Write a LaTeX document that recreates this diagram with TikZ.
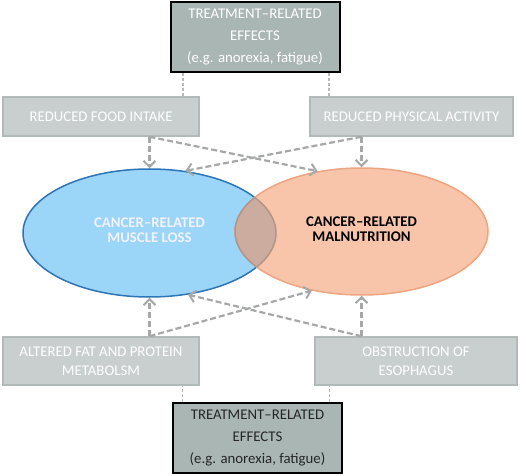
\documentclass[tikz,border=0pt]{standalone}
\usepackage{fontspec}
\setmainfont{Carlito}
\usetikzlibrary{shapes.geometric,arrows.meta}
\definecolor{boxfill}{RGB}{201,207,207}
\definecolor{boxline}{RGB}{178,186,185}
\definecolor{treatfill}{RGB}{169,182,179}
\definecolor{bluefill}{RGB}{155,213,247}
\definecolor{blueline}{RGB}{46,117,182}
\definecolor{orfill}{RGB}{248,196,170}
\definecolor{orline}{RGB}{238,165,130}
\definecolor{overfill}{RGB}{203,172,158}
\definecolor{overline}{RGB}{180,148,132}
\definecolor{arrgray}{RGB}{166,168,168}
\tikzset{
  causebox/.style={draw=boxline, line width=1.5pt, fill=boxfill, text=white, align=center, inner sep=0pt,
    font=\fontsize{14.8}{19}\selectfont},
  treatbox/.style={draw=black, line width=2pt, fill=treatfill, align=center, inner sep=0pt,
    minimum width=169pt, minimum height=70pt, font=\fontsize{14.8}{22}\selectfont},
  arr/.style={draw=arrgray, line width=2.2pt, dash pattern=on 6pt off 3pt, -{Straight Barb[length=6pt,width=12pt,line width=2pt]}},
  link/.style={draw=arrgray!80, line width=1.6pt, dash pattern=on 3pt off 2pt},
}
\begin{document}
\begin{tikzpicture}[x=1pt,y=-1pt]
\useasboundingbox[fill=white] (0,0) rectangle (520,476);
% treatment boxes
\node[treatbox, text=white] (top) at (255,37.5) {TREATMENT–RELATED\\EFFECTS\\(e.g. anorexia, fatigue)};
\node[treatbox, text=black!85] (bot) at (257.5,438) {TREATMENT–RELATED\\EFFECTS\\(e.g. anorexia, fatigue)};
% cause boxes
\node[causebox, minimum width=196pt, minimum height=39pt] (food) at (101,116.5) {REDUCED FOOD INTAKE};
\node[causebox, minimum width=203pt, minimum height=39pt] (phys) at (411.5,116.5) {REDUCED PHYSICAL ACTIVITY};
\node[causebox, minimum width=196pt, minimum height=48pt] (alt) at (101,361) {ALTERED FAT AND PROTEIN\\METABOLSM};
\node[causebox, minimum width=202pt, minimum height=48pt] (obs) at (416,361) {OBSTRUCTION OF\\ESOPHAGUS};
% ellipses
\node[ellipse, fill=bluefill, draw=blueline, line width=1.5pt, minimum width=253pt, minimum height=128pt, inner sep=0pt,
  text=white!95!blue, align=center, font=\bfseries\fontsize{14.8}{20}\selectfont] (blue) at (149.5,233)
  {\raisebox{5pt}{\shortstack{CANCER–RELATED\\[2pt]MUSCLE LOSS}}};
\node[ellipse, fill=orfill, draw=orline, line width=1.5pt, minimum width=253pt, minimum height=127pt, inner sep=0pt,
  text=black, align=center, font=\bfseries\fontsize{14.8}{20}\selectfont] (orange) at (361.5,231.5)
  {\raisebox{4pt}{\shortstack{CANCER–RELATED\\[2pt]MALNUTRITION}}};
\begin{scope}
  \clip (blue.center) ellipse (126.5pt and 64pt);
  \fill[overfill] (orange.center) ellipse (126.5pt and 63.5pt);
  \draw[overline, line width=1.5pt] (orange.center) ellipse (126.5pt and 63.5pt);
\end{scope}
\begin{scope}
  \clip (orange.center) ellipse (126.5pt and 63.5pt);
  \draw[overline, line width=1.5pt] (blue.center) ellipse (126.5pt and 64pt);
\end{scope}
% links from treatment boxes
\draw[link] ([xshift=-72pt]top.south) -- ([xshift=-72pt]top.south |- food.north);
\draw[link] ([xshift=74pt]top.south) -- ([xshift=74pt]top.south |- phys.north);
\draw[link] ([xshift=-75pt]bot.north) -- ([xshift=-75pt]bot.north |- alt.south);
\draw[link] ([xshift=72pt]bot.north) -- ([xshift=72pt]bot.north |- obs.south);
% arrows
\draw[arr] (food.south -| blue.north) -- (blue.north);
\draw[arr] (food.south -| blue.north) -- (orange.126);
\draw[arr] (phys.south -| orange.north) -- (orange.north);
\draw[arr] (phys.south -| orange.north) -- (blue.60);
\draw[arr] (alt.north -| blue.south) -- (blue.south);
\draw[arr] (alt.north -| blue.south) -- (orange.230);
\draw[arr] (obs.north -| orange.south) -- (orange.south);
\draw[arr] (obs.north -| orange.south) -- (blue.302);
\end{tikzpicture}
\end{document}
